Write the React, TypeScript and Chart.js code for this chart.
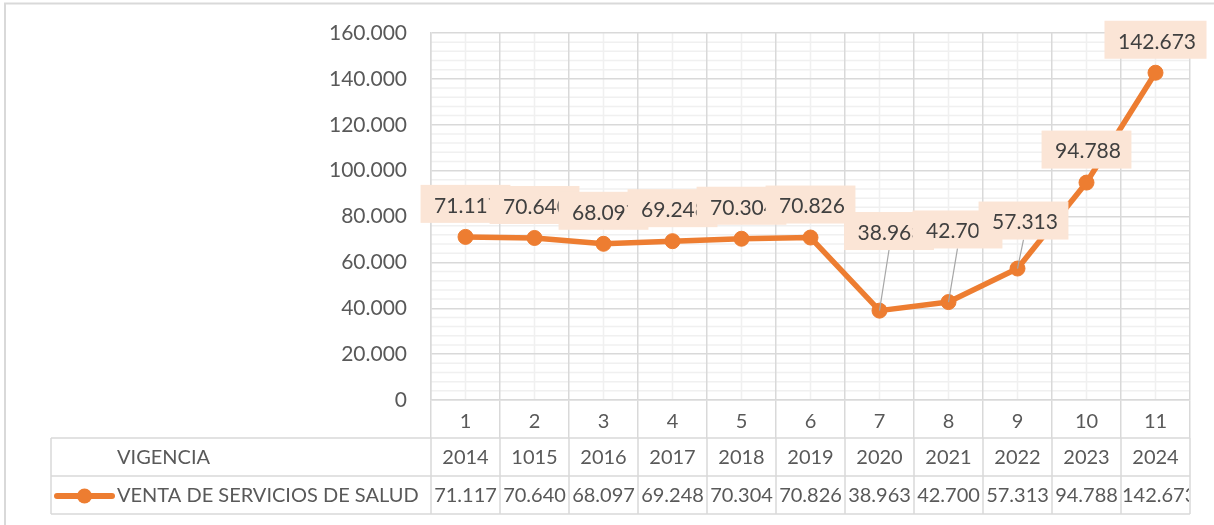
import React, { useEffect, useRef } from 'react';
import { Chart, registerables } from 'chart.js';

Chart.register(...registerables);

// ---------- data ----------
const categories: string[] = ['1', '2', '3', '4', '5', '6', '7', '8', '9', '10', '11'];
const vigencia: string[] = ['2014', '1015', '2016', '2017', '2018', '2019', '2020', '2021', '2022', '2023', '2024'];
const ventas: number[] = [71117, 70640, 68097, 69248, 70304, 70826, 38963, 42700, 57313, 94788, 142673];
const rowHeader = 'VIGENCIA';
const seriesName = 'VENTA DE SERVICIOS DE SALUD';
const yMin = 0;
const yMax = 160000;
const yMajorStep = 20000;
const yMinorStep = 4000;

// ---------- styles / layout ----------
const FONT = 'Lato, "Open Sans", sans-serif';
const FONT_SIZE = 20;
const LABEL_FONT_SIZE = 21;
const ORANGE = '#ED7D31';
const TEXT = '#595959';
const LABEL_TEXT = '#404040';
const LABEL_BG = '#FBE5D6';
const GRID_MAJOR = '#D9D9D9';
const GRID_MINOR = '#F0F0F0';
const ROW_H = 38;
const TABLE_LEFT = 51;
const TABLE_TEXT_X = 117;
// manual nudges (px) of data labels that Excel moved, relative to "above" position
const LABEL_NUDGE: [number, number][] = [
  [0, 0], [0, 0], [0, 0], [0, 0], [0, 0], [0, 0],
  [9.5, -46.6], [9, -39.6], [6, -15], [0, 0], [0, 0],
];

const fmt = (v: number) => String(Math.round(v)).replace(/\B(?=(\d{3})+(?!\d))/g, '.');

const backgroundPlugin = {
  id: 'bgMinor',
  beforeDraw(chart: any) {
    const { ctx, width, height, chartArea } = chart;
    const xs = chart.scales.x;
    const ys = chart.scales.y;
    ctx.save();
    ctx.fillStyle = '#FFFFFF';
    ctx.fillRect(0, 0, width, height);
    // outer border
    ctx.strokeStyle = GRID_MAJOR;
    ctx.lineWidth = 2;
    ctx.beginPath();
    ctx.moveTo(5, height + 2);
    ctx.lineTo(5, 3.5);
    ctx.lineTo(width + 2, 3.5);
    ctx.stroke();
    // minor gridlines
    ctx.strokeStyle = GRID_MINOR;
    ctx.lineWidth = 1.5;
    for (let v = yMin; v <= yMax; v += yMinorStep) {
      if (v % yMajorStep === 0) continue;
      const py = ys.getPixelForValue(v);
      ctx.beginPath();
      ctx.moveTo(chartArea.left, py);
      ctx.lineTo(chartArea.right, py);
      ctx.stroke();
    }
    for (let i = 0; i < categories.length; i++) {
      const px = xs.getPixelForValue(i);
      ctx.beginPath();
      ctx.moveTo(px, chartArea.top);
      ctx.lineTo(px, chartArea.bottom);
      ctx.stroke();
    }
    ctx.restore();
  },
};

const dataLabelPlugin = {
  id: 'dataLabels',
  afterDatasetsDraw(chart: any) {
    const { ctx } = chart;
    const meta = chart.getDatasetMeta(0);
    ctx.save();
    ctx.font = `${LABEL_FONT_SIZE}px ${FONT}`;
    const boxes = meta.data.map((pt: any, i: number) => {
      const text = fmt(ventas[i]);
      const tw = ctx.measureText(text).width;
      const w = tw + 24;
      const h = 38;
      const [dx, dy] = LABEL_NUDGE[i] || [0, 0];
      const cx = pt.x + dx;
      const cy = pt.y - 14 - h / 2 + dy;
      return { text, w, h, cx, cy, px: pt.x, py: pt.y, moved: dx !== 0 || dy !== 0 };
    });
    // leader lines
    ctx.strokeStyle = '#A6A6A6';
    ctx.lineWidth = 1.2;
    boxes.forEach((b: any) => {
      if (!b.moved) return;
      ctx.beginPath();
      ctx.moveTo(b.cx, b.cy + b.h / 2);
      ctx.lineTo(b.px, b.py);
      ctx.stroke();
    });
    ctx.textAlign = 'center';
    ctx.textBaseline = 'middle';
    boxes.forEach((b: any) => {
      ctx.fillStyle = LABEL_BG;
      ctx.fillRect(b.cx - b.w / 2, b.cy - b.h / 2, b.w, b.h);
      ctx.fillStyle = LABEL_TEXT;
      ctx.fillText(b.text, b.cx + 1.5, b.cy + 2);
    });
    ctx.restore();
  },
};

const dataTablePlugin = {
  id: 'dataTable',
  afterDraw(chart: any) {
    const { ctx, chartArea } = chart;
    const xs = chart.scales.x;
    const top = xs.bottom;
    const r1 = top + ROW_H;
    const r2 = r1 + ROW_H;
    const half = (xs.getPixelForValue(1) - xs.getPixelForValue(0)) / 2;
    ctx.save();
    // borders
    ctx.strokeStyle = GRID_MAJOR;
    ctx.lineWidth = 1.5;
    [top, r1, r2].forEach((y) => {
      ctx.beginPath();
      ctx.moveTo(TABLE_LEFT, y);
      ctx.lineTo(chartArea.right, y);
      ctx.stroke();
    });
    const vx: number[] = [TABLE_LEFT];
    for (let i = 0; i < categories.length; i++) vx.push(xs.getPixelForValue(i) - half);
    vx.push(xs.getPixelForValue(categories.length - 1) + half);
    vx.forEach((x) => {
      ctx.beginPath();
      ctx.moveTo(x, top);
      ctx.lineTo(x, r2);
      ctx.stroke();
    });
    // text
    ctx.font = `${FONT_SIZE}px ${FONT}`;
    ctx.fillStyle = TEXT;
    ctx.textBaseline = 'middle';
    const y1 = top + ROW_H / 2 + 1;
    const y2 = r1 + ROW_H / 2 + 1;
    ctx.textAlign = 'left';
    ctx.fillText(rowHeader, TABLE_TEXT_X, y1);
    ctx.fillText(seriesName, TABLE_TEXT_X, y2, chartArea.left - TABLE_TEXT_X - 6);
    // legend marker
    ctx.strokeStyle = ORANGE;
    ctx.lineWidth = 6;
    ctx.lineCap = 'round';
    ctx.beginPath();
    ctx.moveTo(57, y2);
    ctx.lineTo(112, y2);
    ctx.stroke();
    ctx.fillStyle = ORANGE;
    ctx.beginPath();
    ctx.arc(84.5, y2, 7.5, 0, Math.PI * 2);
    ctx.fill();
    ctx.fillStyle = TEXT;
    for (let i = 0; i < categories.length; i++) {
      const cx = xs.getPixelForValue(i);
      ctx.textAlign = 'center';
      ctx.fillText(vigencia[i], cx, y1);
      const t = fmt(ventas[i]);
      const tw = ctx.measureText(t).width;
      const colL = cx - half;
      if (tw > half * 2 - 2) {
        ctx.save();
        ctx.beginPath();
        ctx.rect(colL + 1, r1, half * 2 - 2, ROW_H);
        ctx.clip();
        ctx.textAlign = 'left';
        ctx.fillText(t, colL + 1, y2);
        ctx.restore();
      } else {
        ctx.fillText(t, cx, y2);
      }
    }
    ctx.restore();
  },
};

export default function App() {
  const ref = useRef<HTMLCanvasElement | null>(null);
  useEffect(() => {
    if (!ref.current) return;
    Chart.defaults.font.family = FONT;
    Chart.defaults.font.size = FONT_SIZE;
    Chart.defaults.color = TEXT;
    const chart = new Chart(ref.current, {
      type: 'line',
      data: {
        labels: categories,
        datasets: [
          {
            label: seriesName,
            data: ventas,
            borderColor: ORANGE,
            backgroundColor: ORANGE,
            borderWidth: 5.5,
            pointRadius: 7.5,
            pointBorderWidth: 1,
            pointBackgroundColor: ORANGE,
            pointBorderColor: ORANGE,
            borderJoinStyle: 'round',
            borderCapStyle: 'round',
            tension: 0,
            clip: false as any,
          },
        ],
      },
      options: {
        responsive: false,
        animation: false,
        devicePixelRatio: 1,
        layout: { padding: { top: 33, right: 24, bottom: 87, left: 0 } },
        plugins: { legend: { display: false }, tooltip: { enabled: false } },
        events: [],
        scales: {
          x: {
            offset: true,
            grid: {
              offset: true,
              color: GRID_MAJOR,
              lineWidth: 1.5,
              drawTicks: true,
              tickLength: 38,
              tickColor: GRID_MAJOR,
              tickWidth: 1.5,
            },
            border: { display: true, color: GRID_MAJOR, width: 1.5 },
            ticks: { padding: -28, color: TEXT, maxRotation: 0, autoSkip: false, font: { size: FONT_SIZE } },
            afterFit: (s: any) => {
              s.height = 38;
            },
          },
          y: {
            min: yMin,
            max: yMax,
            ticks: {
              stepSize: yMajorStep,
              padding: 24,
              color: TEXT,
              font: { size: LABEL_FONT_SIZE },
              callback: (v: any) => fmt(Number(v)),
            },
            grid: { color: GRID_MAJOR, lineWidth: 1.5, drawTicks: false },
            border: { display: true, color: GRID_MAJOR, width: 1.5 },
            afterFit: (s: any) => {
              s.width = 431;
              s.paddingTop = 0;
              s.paddingBottom = 0;
            },
          },
        },
      } as any,
      plugins: [backgroundPlugin, dataLabelPlugin, dataTablePlugin],
    });
    return () => chart.destroy();
  }, []);
  return (
    <div style={{ position: 'absolute', left: 0, top: 0, width: 1214, height: 525 }}>
      <canvas ref={ref} width={1214} height={525} style={{ display: 'block' }} />
    </div>
  );
}
